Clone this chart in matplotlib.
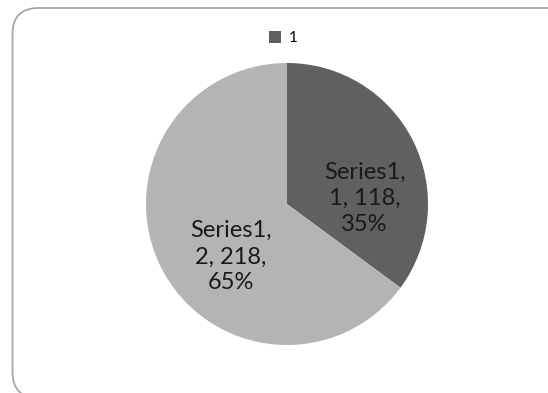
import matplotlib.pyplot as plt
from matplotlib.patches import FancyBboxPatch, Patch

# data
categories = ['1', '2']
values = [118, 218]
series_name = 'Series1'
colors = ['#606060', '#b4b4b4']

W, H, DPI = 548, 393, 100
fig = plt.figure(figsize=(W / DPI, H / DPI), dpi=DPI)
plt.rcParams['font.family'] = ['Lato', 'DejaVu Sans']

# rounded chart border (runs off the right / bottom edge like the original)
border = FancyBboxPatch((0.125, -0.05), 5.62, 3.9,
                        boxstyle='round,pad=0,rounding_size=0.26',
                        transform=fig.dpi_scale_trans, fill=False,
                        edgecolor='#a6a6a6', linewidth=1.3)
fig.add_artist(border)

# pie axes: centre (287, 204) px from top-left, radius 141 px
cx, cy, r = 287, 204, 141
ax = fig.add_axes([(cx - r) / W, (H - cy - r) / H, 2 * r / W, 2 * r / H])
ax.pie(values, colors=colors, startangle=90, counterclock=False, radius=1,
       wedgeprops=dict(linewidth=0))
ax.set_xlim(-1, 1)
ax.set_ylim(-1, 1)
ax.axis('off')

total = sum(values)
label_pos = [(0.55, 0.04), (-0.40, -0.375)]
for cat, v, (lx, ly) in zip(categories, values, label_pos):
    pct = round(100 * v / total)
    ax.text(lx, ly, f'{series_name},\n{cat}, {v},\n{pct}%', ha='center',
            va='center', fontsize=17, linespacing=1.3, color='#1a1a1a')

# legend with only the first entry
handles = [Patch(facecolor=colors[0], edgecolor='none')]
fig.legend(handles, [categories[0]], loc='center', bbox_to_anchor=(283 / W, 1 - 38 / H),
           frameon=False, fontsize=11, handlelength=0.8, handleheight=0.8,
           handletextpad=0.5)

fig.savefig('out.png', dpi=DPI)
